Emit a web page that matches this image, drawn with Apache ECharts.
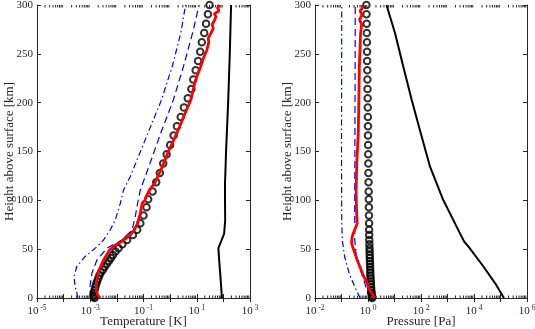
<!DOCTYPE html>
<html><head><meta charset="utf-8">
<script src="https://cdn.jsdelivr.net/npm/echarts@6/dist/echarts.min.js"></script>
<style>html,body{margin:0;padding:0;background:#fff}#c{width:535px;height:329px}</style>
</head><body><div id="c"></div>
<script>
// ---------- Left panel: temperature [K] ----------
const tSolidH = [0, 15, 29, 40, 51, 57.6, 66, 80, 100, 117, 131, 150, 200, 250, 300];
const tSolidV = [88, 81, 74, 69, 65, 81, 107, 117, 115, 115, 120, 126, 151, 174, 195];

const tRedH = [0, 3, 8, 18, 29, 39, 49, 54, 59, 64.5, 70, 76.5, 87, 97, 100, 104, 111, 117, 134, 151, 168, 185, 203, 212, 220, 228, 237, 245, 254, 262, 266, 271, 276, 280, 284, 288, 291, 294, 297, 300];
const tRedV = [2.34e-3, 1.9e-3, 1.66e-3, 1.74e-3, 2.19e-3, 3.16e-3, 5.25e-3, 8.7e-3, 1.78e-2, 3.16e-2, 4.57e-2, 6.0e-2, 7.6e-2, 8.9e-2, 0.112, 0.126, 0.17, 0.257, 0.50, 0.89, 1.74, 3.16, 6.0, 7.2, 8.3, 10.5, 14.1, 17.4, 24.0, 28.2, 27, 33.9, 41.7, 38, 45.7, 52.5, 45.7, 69, 60, 72];

const circH = [300, 290.45, 280.9, 271.35, 261.8, 252.25, 242.7, 233.15, 223.6, 214.05, 204.5, 194.95, 185.4, 175.85, 166.3, 156.75, 147.2, 137.65, 128.1, 118.55, 109, 101, 92.8, 84.5, 76.5, 70, 64.5, 59.5, 55, 51, 47.5, 44, 41, 38, 35, 32, 29, 26, 23, 20, 17, 14, 11, 8, 5.5, 3, 1.2, 0];
const tCircV = [30.2, 26.3, 22.4, 19.1, 15.5, 13.5, 11.2, 9.1, 7.4, 6.3, 4.6, 3.3, 2.5, 1.8, 1.35, 1.0, 0.74, 0.55, 0.41, 0.30, 0.22, 0.15, 0.13, 0.10, 0.076, 0.058, 0.040, 0.024, 0.016, 0.0115, 0.0089, 0.0071, 0.0060, 0.0050, 0.0042, 0.0035, 0.0030, 0.0025, 0.0022, 0.0020, 0.0018, 0.00166, 0.00155, 0.00145, 0.00135, 0.00132, 0.00135, 0.00145];

const tDashH = [0, 11.6, 25.3, 38.9, 50.9, 59.4, 69.6, 83.2, 97, 110.6, 134.4, 168.6, 202.7, 237, 271, 300];
const tDashV = [1.05e-3, 9.8e-4, 1.15e-3, 1.78e-3, 4.2e-3, 1.55e-2, 3.7e-2, 4.9e-2, 6.0e-2, 7.6e-2, 0.158, 0.44, 1.32, 3.16, 6.9, 12.3];

const tDotH = [0, 11.6, 21.8, 32, 42.3, 52.5, 59.4, 69.6, 79.9, 97, 110.6, 124.2, 202.7, 237, 271, 300];
const tDotV = [3.5e-4, 2.7e-4, 2.45e-4, 3.1e-4, 6.3e-4, 1.78e-3, 3.16e-3, 5.6e-3, 8.7e-3, 1.35e-2, 1.78e-2, 3.16e-2, 0.47, 1.2, 2.5, 3.8];

// ---------- Right panel: pressure [Pa] ----------
const pSolidH = [0, 1.4, 15, 32, 52.5, 58, 66.2, 100.3, 134.4, 168.6, 202.7, 237, 271, 300];
const pSolidV = [1.35e5, 1.29e5, 6.3e4, 2.3e4, 6.2e3, 4.2e3, 2.95e3, 692, 219, 98, 44.7, 21.4, 10.5, 5.0];

const pRedH = [0, 1, 3, 8, 15, 25, 39, 51, 56, 62, 66, 76, 90, 110, 140, 170, 200, 237, 255, 271, 280, 285, 290, 294, 297, 300];
const pRedV = [1.8, 1.75, 1.55, 1.17, 0.93, 0.62, 0.39, 0.275, 0.24, 0.25, 0.275, 0.39, 0.37, 0.355, 0.38, 0.43, 0.45, 0.47, 0.50, 0.525, 0.575, 0.48, 0.60, 0.50, 0.63, 0.575];

const pCircV = [0.87, 0.88, 0.89, 0.90, 0.91, 0.92, 0.93, 0.94, 0.95, 0.96, 0.97, 0.98, 0.99, 1.0, 1.0, 1.01, 1.02, 1.03, 1.04, 1.05, 1.06, 1.07, 1.08, 1.09, 1.10, 1.10, 1.11, 1.12, 1.13, 1.14, 1.15, 1.16, 1.17, 1.18, 1.19, 1.20, 1.21, 1.22, 1.23, 1.25, 1.27, 1.29, 1.31, 1.33, 1.36, 1.39, 1.42, 1.45];

const pDashH = [0, 15, 30, 45, 60, 100, 200, 300];
const pDashV = [1.12, 0.76, 0.50, 0.355, 0.316, 0.316, 0.324, 0.331];

const pDotH = [0, 1.4, 11.6, 25, 42, 59.4, 80, 150, 300];
const pDotV = [0.50, 0.47, 0.316, 0.195, 0.132, 0.107, 0.102, 0.10, 0.102];

// ---------- Axes ----------
const heightTicks = [0, 50, 100, 150, 200, 250, 300];
const tempDecades = [-5, 3];   // 10^-5 .. 10^3, labels every 2nd decade
const presDecades = [-2, 6];   // 10^-2 .. 10^6

const FONT = 'Liberation Serif';
const AX = '#262626';

function pairs(xs, hs) { return hs.map((h, i) => [xs[i], h]); }
function minorValues(d) {
  const out = [];
  for (let e = d[0]; e < d[1]; e++) for (let m = 2; m <= 9; m++) out.push([m * Math.pow(10, e), 0]);
  return out;
}
function logLabel(first) {
  return function (v) {
    const e = Math.round(Math.log10(v));
    if ((e - first) % 2 !== 0) return '';
    return '{b|10}{s|' + e + '}';
  };
}
function xAxes(dec, gi, name) {
  const base = {
    type: 'log', logBase: 10, gridIndex: gi,
    min: Math.pow(10, dec[0]), max: Math.pow(10, dec[1]),
    axisLine: { show: true, lineStyle: { color: AX, width: 1 } },
    axisTick: { show: true, inside: true, length: 4, lineStyle: { color: AX } },
    splitLine: { show: false }, minorTick: { show: false }
  };
  return [
    Object.assign({}, base, {
      position: 'bottom', name: name, nameLocation: 'middle', nameGap: 17, nameMoveOverlap: false,
      nameTextStyle: { fontFamily: FONT, fontSize: 13, color: AX },
      axisLabel: {
        formatter: logLabel(dec[0]), margin: 6, color: AX,
        rich: {
          b: { fontFamily: FONT, fontSize: 11, color: AX },
          s: { fontFamily: FONT, fontSize: 7.5, color: AX, padding: [0, 0, 6, 2] }
        }
      }
    }),
    Object.assign({}, base, { position: 'top', axisLabel: { show: false } })
  ];
}
function yAxes(gi) {
  const base = {
    type: 'value', gridIndex: gi, min: 0, max: 300, interval: 50,
    axisLine: { show: true, lineStyle: { color: AX, width: 1 } },
    axisTick: { show: true, inside: true, length: 4, lineStyle: { color: AX } },
    splitLine: { show: false }
  };
  return [
    Object.assign({}, base, {
      position: 'left', name: 'Height above surface [km]', nameLocation: 'middle', nameGap: 21,
      nameMoveOverlap: false,
      nameRotate: 90, nameTextStyle: { fontFamily: FONT, fontSize: 13, color: AX },
      axisLabel: { fontFamily: FONT, fontSize: 11, color: AX, margin: 4,
        formatter: v => heightTicks.indexOf(v) >= 0 ? String(v) : '' }
    }),
    Object.assign({}, base, { position: 'right', axisLabel: { show: false } })
  ];
}
function minorSeries(xi, yi, dec) {
  return {
    type: 'custom', xAxisIndex: xi, yAxisIndex: yi, silent: true, z: 1,
    data: minorValues(dec), encode: { x: 0, y: 1 },
    renderItem: function (params, api) {
      const v = api.value(0);
      const b = api.coord([v, 0]);
      const t = api.coord([v, 300]);
      const st = { stroke: AX, lineWidth: 1 };
      return { type: 'group', children: [
        { type: 'line', shape: { x1: b[0], y1: b[1], x2: b[0], y2: b[1] - 2.5 }, style: st },
        { type: 'line', shape: { x1: t[0], y1: t[1], x2: t[0], y2: t[1] + 2.5 }, style: st }
      ] };
    }
  };
}
function line(xi, yi, data, color, width, dash, z) {
  return {
    type: 'line', xAxisIndex: xi, yAxisIndex: yi, data: data, showSymbol: false, symbol: 'none',
    smooth: false, z: z, animation: false,
    lineStyle: { color: color, width: width, type: dash || 'solid' }
  };
}
function circles(xi, yi, data) {
  return {
    type: 'scatter', xAxisIndex: xi, yAxisIndex: yi, data: data, symbol: 'circle', symbolSize: 6.5, z: 4,
    animation: false,
    itemStyle: { color: 'rgba(0,0,0,0)', borderColor: '#000', borderWidth: 2 }
  };
}

const chart = echarts.init(document.getElementById('c'), null, { renderer: 'canvas' });
chart.setOption({
  animation: false,
  backgroundColor: '#fff',
  grid: [
    { left: 37, top: 5, width: 213, height: 293, containLabel: false, outerBoundsMode: 'none' },
    { left: 315, top: 5, width: 212, height: 293, containLabel: false, outerBoundsMode: 'none' }
  ],
  xAxis: [].concat(xAxes(tempDecades, 0, 'Temperature [K]'), xAxes(presDecades, 1, 'Pressure [Pa]')),
  yAxis: [].concat(yAxes(0), yAxes(1)),
  series: [
    minorSeries(0, 0, tempDecades),
    line(0, 0, pairs(tDotV, tDotH), '#0000ff', 1.2, [6, 3, 1.5, 3], 2),
    line(0, 0, pairs(tDashV, tDashH), '#0000ff', 1.2, [7, 4], 2),
    line(0, 0, pairs(tSolidV, tSolidH), '#000000', 2, null, 3),
    circles(0, 0, pairs(tCircV, circH)),
    line(0, 0, pairs(tRedV, tRedH), '#ff0000', 2.8, null, 5),

    minorSeries(2, 2, presDecades),
    line(2, 2, pairs(pDotV, pDotH), '#0000ff', 1.2, [6, 3, 1.5, 3], 2),
    line(2, 2, pairs(pDashV, pDashH), '#0000ff', 1.2, [7, 4], 2),
    line(2, 2, pairs(pSolidV, pSolidH), '#000000', 2, null, 3),
    circles(2, 2, pairs(pCircV, circH)),
    line(2, 2, pairs(pRedV, pRedH), '#ff0000', 2.8, null, 5)
  ]
});
</script>
</body></html>
